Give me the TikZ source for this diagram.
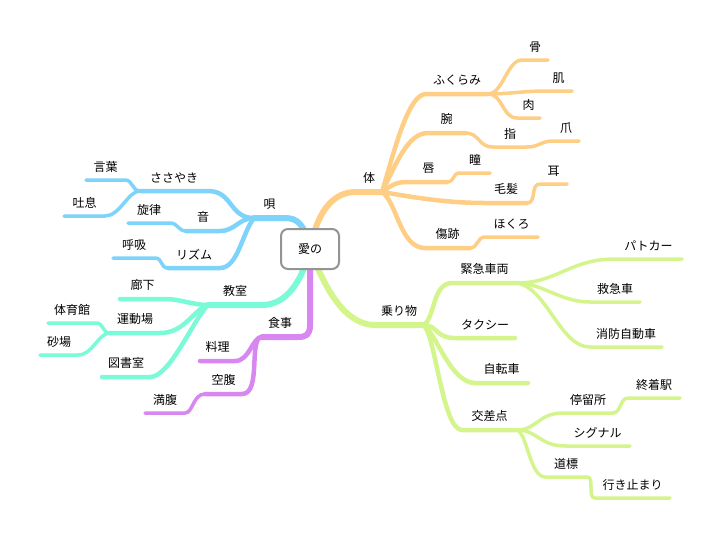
\documentclass[tikz,border=0pt]{standalone}
\usepackage{fontspec}
\setmainfont{Noto Sans CJK JP}
\definecolor{bodyorange}{RGB}{255,206,133}
\definecolor{songblue}{RGB}{125,211,250}
\definecolor{roomaqua}{RGB}{122,250,214}
\definecolor{mealpurple}{RGB}{216,134,240}
\definecolor{ridegreen}{RGB}{211,245,140}
\tikzset{
  lvla/.style={line width=6pt, line cap=round},
  lvlb/.style={line width=4.5pt, line cap=round},
  lvlc/.style={line width=3.5pt, line cap=round},
  lbl/.style={above=4pt, inner sep=2pt, text=black, font=\fontsize{12}{14}\selectfont},
  rootbox/.style={draw=black!42, line width=2pt, rounded corners=7pt, fill=white,
    minimum width=58pt, minimum height=40pt, font=\fontsize{12}{14}\selectfont}
}

\begin{document}
\begin{tikzpicture}[x=1pt, y=-1pt]
    \useasboundingbox (0,0) rectangle (719,543);
    \coordinate (ai) at (310,249);

    % 体
    \draw[lvla, bodyorange] (ai) .. controls +(8,-40) and +(-22,0) .. (356,192) -- (382,192) node[midway, lbl] (tiL) {体} coordinate (ti);
    \draw[lvlb, bodyorange] (ti) .. controls +(12,-40) and +(-18,0) .. (426,94) -- (488,94) node[midway, lbl] (fkL) {ふくらみ} coordinate (fk);
    \draw[lvlc, bodyorange] (fk) .. controls +(15,0) and +(-15,0) .. (522,60) -- (548,60) node[midway, lbl] (honeL) {骨} coordinate (hone);
    \draw[lvlc, bodyorange] (fk) .. controls +(20,0) and +(-20,0) .. (545,91) -- (572,91) node[midway, lbl] (hadaL) {肌} coordinate (hada);
    \draw[lvlc, bodyorange] (fk) .. controls +(15,0) and +(-15,0) .. (517,118) -- (540,118) node[midway, lbl] (nikuL) {肉} coordinate (niku);
    \draw[lvlb, bodyorange] (ti) .. controls +(15,-30) and +(-20,0) .. (428,133) -- (465,133) node[midway, lbl] (udeL) {腕} coordinate (ude);
    \draw[lvlc, bodyorange] (ude) .. controls +(15,0) and +(-15,0) .. (493,147) -- (527,147) node[midway, lbl] (yubiL) {指} coordinate (yubi);
    \draw[lvlc, bodyorange] (yubi) .. controls +(12,0) and +(-12,0) .. (553,141) -- (579,141) node[midway, lbl] (tsumeL) {爪} coordinate (tsume);
    \draw[lvlb, bodyorange] (ti) .. controls +(12,-8) and +(-15,0) .. (410,182) -- (447,182) node[midway, lbl] (kuchiL) {唇} coordinate (kuchi);
    \draw[lvlc, bodyorange] (kuchi) .. controls +(8,0) and +(-8,0) .. (460,173) -- (490,173) node[midway, lbl] (hitomiL) {瞳} coordinate (hitomi);
    \draw[lvlb, bodyorange] (ti) .. controls +(30,5) and +(-40,0) .. (485,203) -- (527,203) node[midway, lbl] (mohatsuL) {毛髪} coordinate (mohatsu);
    \draw[lvlc, bodyorange] (mohatsu) .. controls +(10,0) and +(-10,0) .. (540,184) -- (567,184) node[midway, lbl] (mimiL) {耳} coordinate (mimi);
    \draw[lvlb, bodyorange] (ti) .. controls +(15,10) and +(-25,0) .. (425,248) -- (470,248) node[midway, lbl] (kizuL) {傷跡} coordinate (kizu);
    \draw[lvlc, bodyorange] (kizu) .. controls +(8,0) and +(-8,0) .. (485,237) -- (538,237) node[midway, lbl] (hokuroL) {ほくろ} coordinate (hokuro);

    % 唄
    \draw[lvla, songblue] (ai) .. controls +(-5,-25) and +(12,0) .. (285,218) -- (254,218) node[midway, lbl] (utaL) {唄} coordinate (uta);
    \draw[lvlb, songblue] (uta) .. controls +(-25,0) and +(25,0) .. (208,191) -- (140,191) node[midway, lbl] (sasayakiL) {ささやき} coordinate (sasayaki);
    \draw[lvlc, songblue] (sasayaki) .. controls +(-8,0) and +(8,0) .. (125,180) -- (86,180) node[midway, lbl] (kotobaL) {言葉} coordinate (kotoba);
    \draw[lvlc, songblue] (sasayaki) .. controls +(-12,0) and +(15,0) .. (105,216) -- (64,216) node[midway, lbl] (toikiL) {吐息} coordinate (toiki);
    \draw[lvlb, songblue] (uta) .. controls +(-15,0) and +(15,0) .. (220,231) -- (186,231) node[midway, lbl] (otoL) {音} coordinate (oto);
    \draw[lvlc, songblue] (oto) .. controls +(-8,0) and +(8,0) .. (170,223) -- (128,223) node[midway, lbl] (senritsuL) {旋律} coordinate (senritsu);
    \draw[lvlb, songblue] (uta) .. controls +(-12,15) and +(18,0) .. (220,268) -- (168,268) node[midway, lbl] (rizumuL) {リズム} coordinate (rizumu);
    \draw[lvlc, songblue] (rizumu) .. controls +(-8,0) and +(8,0) .. (155,258) -- (113,258) node[midway, lbl] (kokyuL) {呼吸} coordinate (kokyu);

    % 教室
    \draw[lvla, roomaqua] (ai) .. controls +(-10,40) and +(20,0) .. (262,305) -- (208,305) node[midway, lbl] (kyoshitsuL) {教室} coordinate (kyoshitsu);
    \draw[lvlb, roomaqua] (kyoshitsu) .. controls +(-15,0) and +(15,0) .. (165,299) -- (120,299) node[midway, lbl] (rokaL) {廊下} coordinate (roka);
    \draw[lvlb, roomaqua] (kyoshitsu) .. controls +(-15,5) and +(25,0) .. (160,333) -- (110,333) node[midway, lbl] (undojoL) {運動場} coordinate (undojo);
    \draw[lvlc, roomaqua] (undojo) .. controls +(-8,0) and +(8,0) .. (96,323) -- (48,323) node[midway, lbl] (taiikukanL) {体育館} coordinate (taiikukan);
    \draw[lvlc, roomaqua] (undojo) .. controls +(-12,0) and +(15,0) .. (78,355) -- (40,355) node[midway, lbl] (sunabaL) {砂場} coordinate (sunaba);
    \draw[lvlb, roomaqua] (kyoshitsu) .. controls +(-15,15) and +(20,0) .. (150,377) -- (102,377) node[midway, lbl] (toshoL) {図書室} coordinate (tosho);

    % 食事
    \draw[lvla, mealpurple] (ai) -- (310,325) .. controls +(0,10) and +(8,0) .. (298,337) -- (262,337) node[midway, lbl] (shokujiL) {食事} coordinate (shokuji);
    \draw[lvlb, mealpurple] (shokuji) .. controls +(-10,0) and +(15,0) .. (235,361) -- (200,361) node[midway, lbl] (ryoriL) {料理} coordinate (ryori);
    \draw[lvlb, mealpurple] (shokuji) .. controls +(-14,0) and +(20,0) .. (242,394) -- (205,394) node[midway, lbl] (kufukuL) {空腹} coordinate (kufuku);
    \draw[lvlc, mealpurple] (kufuku) .. controls +(-12,0) and +(8,0) .. (185,413) -- (145,413) node[midway, lbl] (manpukuL) {満腹} coordinate (manpuku);

    % 乗り物
    \draw[lvla, ridegreen] (ai) .. controls +(15,40) and +(-30,0) .. (375,325) -- (423,325) node[midway, lbl] (norimonoL) {乗り物} coordinate (norimono);
    \draw[lvlb, ridegreen] (norimono) .. controls +(12,-5) and +(-20,0) .. (452,283) -- (517,283) node[midway, lbl] (kinkyuL) {緊急車両} coordinate (kinkyu);
    \draw[lvlc, ridegreen] (kinkyu) .. controls +(40,0) and +(-45,0) .. (615,259) -- (682,259) node[midway, lbl] (patokaL) {パトカー} coordinate (patoka);
    \draw[lvlc, ridegreen] (kinkyu) .. controls +(25,0) and +(-30,0) .. (590,302) -- (640,302) node[midway, lbl] (kyukyuL) {救急車} coordinate (kyukyu);
    \draw[lvlc, ridegreen] (kinkyu) .. controls +(30,5) and +(-30,0) .. (590,347) -- (662,347) node[midway, lbl] (shoboL) {消防自動車} coordinate (shobo);
    \draw[lvlb, ridegreen] (norimono) .. controls +(15,0) and +(-20,0) .. (455,338) -- (515,338) node[midway, lbl] (takushiL) {タクシー} coordinate (takushi);
    \draw[lvlb, ridegreen] (norimono) .. controls +(12,5) and +(-25,0) .. (475,383) -- (528,383) node[midway, lbl] (jitenshaL) {自転車} coordinate (jitensha);
    \draw[lvlb, ridegreen] (norimono) .. controls +(12,5) and +(-20,0) .. (462,430) -- (517,430) node[midway, lbl] (kosatenL) {交差点} coordinate (kosaten);
    \draw[lvlc, ridegreen] (kosaten) .. controls +(20,0) and +(-25,0) .. (563,413) -- (613,413) node[midway, lbl] (teiryujoL) {停留所} coordinate (teiryujo);
    \draw[lvlc, ridegreen] (teiryujo) .. controls +(8,0) and +(-8,0) .. (628,398) -- (680,398) node[midway, lbl] (shuchakuL) {終着駅} coordinate (shuchaku);
    \draw[lvlc, ridegreen] (kosaten) .. controls +(20,0) and +(-25,0) .. (565,446) -- (630,446) node[midway, lbl] (signalL) {シグナル} coordinate (signal);
    \draw[lvlc, ridegreen] (kosaten) .. controls +(10,3) and +(-15,0) .. (545,477) -- (587,477) node[midway, lbl] (dohyoL) {道標} coordinate (dohyo);
    \draw[lvlc, ridegreen] (dohyo) .. controls +(8,0) and +(-8,0) .. (595,498) -- (670,498) node[midway, lbl] (ikidomariL) {行き止まり} coordinate (ikidomari);

    % 中心
    \node[rootbox] (root) at (ai) {愛の};
\end{tikzpicture}
\end{document}
